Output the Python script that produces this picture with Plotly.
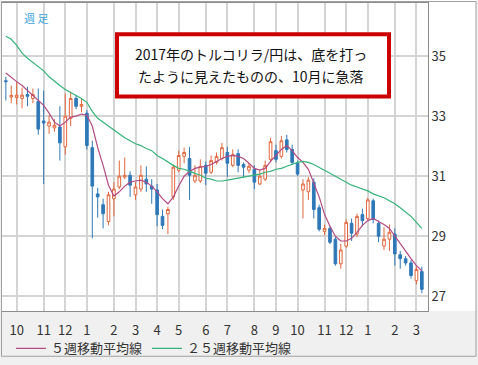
import pandas as pd
import plotly.graph_objects as go

# Weekly TRY/JPY candles (week starting Monday)
weeks = pd.date_range(start="2016-09-19", periods=78, freq="W-MON")

open_ = [34.18, 33.64, 33.62, 33.59, 33.72, 33.59, 33.49, 32.84, 32.67, 32.61,
         32.64, 31.98, 32.93, 33.59, 33.33, 33.10, 31.95, 30.41, 30.05, 29.49,
         30.25, 30.64, 30.97, 31.03, 30.38, 30.57, 30.90, 30.67, 30.54, 29.66,
         29.75, 30.31, 31.20, 31.66, 31.59, 30.84, 30.84, 31.36, 31.13, 31.46,
         31.59, 31.79, 31.36, 31.75, 31.39, 31.20, 31.23, 30.74, 30.90, 31.56,
         31.85, 31.66, 32.21, 31.89, 31.43, 30.54, 30.48, 30.80, 29.95, 29.16,
         29.26, 28.90, 28.08, 28.67, 29.43, 29.07, 29.72, 29.59, 30.18, 29.43,
         28.67, 28.90, 29.07, 28.38, 28.25, 28.11, 27.52, 27.82]
high = [34.31, 34.02, 34.15, 33.95, 33.98, 33.92, 33.92, 33.85, 33.03, 32.90,
        33.33, 33.75, 33.82, 33.69, 33.59, 33.20, 32.18, 30.61, 30.25, 30.48,
        30.80, 31.52, 31.62, 31.16, 30.80, 31.36, 31.33, 30.90, 30.74, 29.89,
        29.98, 31.39, 31.85, 31.95, 31.98, 31.36, 31.56, 31.49, 31.69, 31.79,
        32.11, 31.98, 31.89, 31.89, 31.46, 31.43, 31.36, 31.20, 31.52, 32.28,
        32.05, 32.34, 32.38, 32.05, 31.52, 30.90, 30.97, 30.93, 30.05, 29.39,
        29.33, 28.97, 28.74, 29.56, 29.59, 29.75, 29.92, 30.28, 30.25, 29.52,
        29.30, 29.39, 29.26, 28.51, 28.34, 28.21, 27.98, 27.98]
low = [33.52, 33.43, 33.39, 33.26, 33.33, 33.43, 32.38, 30.74, 32.41, 32.48,
       31.52, 31.72, 32.67, 33.23, 33.13, 31.89, 28.93, 29.62, 29.26, 29.36,
       29.66, 30.57, 30.90, 30.31, 30.21, 30.48, 30.48, 30.08, 29.33, 29.23,
       29.07, 30.21, 31.13, 31.43, 30.21, 30.77, 30.77, 30.70, 31.07, 31.39,
       31.52, 30.97, 31.30, 31.13, 30.97, 31.10, 30.57, 30.70, 30.84, 31.49,
       31.46, 31.59, 31.79, 31.39, 31.00, 29.59, 30.21, 29.59, 29.16, 29.03,
       28.74, 28.02, 27.92, 28.61, 28.84, 28.97, 29.33, 29.52, 29.43, 28.80,
       28.54, 28.51, 28.02, 27.92, 28.02, 27.59, 27.39, 27.10]
close = [34.15, 33.69, 33.70, 33.70, 33.66, 33.72, 32.57, 32.77, 32.80, 32.70,
         32.11, 33.00, 33.59, 33.33, 33.39, 32.02, 30.67, 30.31, 29.75, 30.38,
         30.57, 31.00, 31.03, 30.70, 30.64, 31.03, 30.74, 30.57, 29.72, 29.36,
         29.89, 31.30, 31.69, 31.79, 31.03, 31.03, 31.33, 31.10, 31.52, 31.66,
         31.95, 31.43, 31.72, 31.36, 31.30, 31.33, 30.80, 31.00, 31.36, 32.15,
         31.56, 32.18, 31.89, 31.46, 31.07, 30.74, 30.87, 29.89, 29.23, 29.26,
         28.80, 28.08, 28.54, 29.46, 29.10, 29.66, 29.52, 30.21, 29.56, 29.00,
         28.90, 29.13, 28.41, 28.25, 28.11, 27.69, 27.89, 27.23]

ma5 = [34.44, 34.28, 34.15, 34.02, 33.85, 33.69, 33.52, 33.36, 33.10, 32.80,
       32.67, 32.80, 32.97, 33.00, 33.07, 33.03, 32.67, 31.95, 31.36, 30.70,
       30.34, 30.48, 30.67, 30.80, 30.84, 30.87, 30.80, 30.67, 30.48, 30.25,
       30.08, 30.31, 30.67, 31.00, 31.16, 31.26, 31.30, 31.33, 31.39, 31.49,
       31.59, 31.66, 31.69, 31.66, 31.59, 31.43, 31.26, 31.20, 31.26, 31.49,
       31.69, 31.89, 32.02, 31.85, 31.62, 31.46, 31.23, 30.80, 30.31, 29.72,
       29.33, 29.00, 28.84, 28.84, 28.93, 29.13, 29.36, 29.52, 29.59, 29.49,
       29.39, 29.26, 29.00, 28.74, 28.48, 28.25, 28.02, 27.85]
ma25 = [35.66, 35.56, 35.36, 35.10, 34.93, 34.80, 34.64, 34.51, 34.31, 34.15,
        34.02, 33.89, 33.79, 33.69, 33.59, 33.46, 33.16, 32.93, 32.80, 32.64,
        32.54, 32.38, 32.28, 32.18, 32.08, 32.02, 31.92, 31.85, 31.69, 31.59,
        31.46, 31.36, 31.26, 31.23, 31.16, 31.10, 31.03, 30.93, 30.90, 30.84,
        30.84, 30.87, 30.90, 30.93, 30.97, 31.00, 31.03, 31.07, 31.13, 31.16,
        31.23, 31.26, 31.33, 31.39, 31.46, 31.49, 31.46, 31.39, 31.30, 31.20,
        31.10, 31.00, 30.90, 30.80, 30.70, 30.64, 30.57, 30.51, 30.41, 30.34,
        30.28, 30.18, 30.08, 29.95, 29.82, 29.66, 29.46, 29.26]

tick_dates = ["2016-10-03", "2016-11-07", "2016-12-05", "2017-01-02", "2017-02-06",
              "2017-03-06", "2017-04-03", "2017-05-01", "2017-06-05", "2017-07-03",
              "2017-08-07", "2017-09-04", "2017-10-02", "2017-11-06", "2017-12-04",
              "2018-01-01", "2018-02-05", "2018-03-05"]
tick_labels = ["10", "11", "12", "1", "2", "3", "4", "5", "6", "7", "8", "9",
               "10", "11", "12", "1", "2", "3"]
y_ticks = [27, 29, 31, 33, 35]

FONT = "Noto Sans CJK JP"
UP = "#e2673d"
DOWN = "#2f78b8"

fig = go.Figure()
fig.add_trace(go.Candlestick(
    x=weeks, open=open_, high=high, low=low, close=close,
    increasing=dict(line=dict(color=UP, width=1), fillcolor="white"),
    decreasing=dict(line=dict(color=DOWN, width=1), fillcolor=DOWN),
    whiskerwidth=0, showlegend=False, name="週足"))
fig.add_trace(go.Scatter(x=weeks, y=ma5, mode="lines", name="５週移動平均線",
                         line=dict(color="#b24a82", width=1.2)))
fig.add_trace(go.Scatter(x=weeks, y=ma25, mode="lines", name="２５週移動平均線",
                         line=dict(color="#35b37a", width=1.2)))

W, H = 478, 365
L, R, T, B = 2, 50, 3, 49
pw, ph = W - L - R, H - T - B


def px(x):
    return (x - L) / pw


def py(y):
    return (H - B - y) / ph


shapes = [
    dict(type="rect", xref="paper", yref="paper", x0=0, x1=px(476), y0=0, y1=py(0),
         fillcolor="white", line=dict(width=0), layer="below"),
    dict(type="rect", xref="paper", yref="paper", x0=px(117), x1=px(389),
         y0=py(98), y1=py(34.7), fillcolor="white",
         line=dict(color="#cc0000", width=4), layer="above"),
    dict(type="rect", xref="paper", yref="paper", x0=px(1.5), x1=px(476),
         y0=py(362), y1=py(1.5), line=dict(color="#a0a0a0", width=1),
         fillcolor="rgba(0,0,0,0)", layer="above"),
]

annotations = [
    dict(xref="paper", yref="paper", x=px(251.5), y=py(55), showarrow=False,
         xanchor="center", yanchor="middle",
         text="2017年のトルコリラ/円は、底を打っ", font=dict(family=FONT, size=14, color="#111")),
    dict(xref="paper", yref="paper", x=px(251), y=py(77), showarrow=False,
         xanchor="center", yanchor="middle",
         text="たように見えたものの、10月に急落", font=dict(family=FONT, size=14, color="#111")),
    dict(xref="paper", yref="paper", x=px(35.5), y=py(18), showarrow=False,
         xanchor="center", yanchor="middle",
         text="週 足", font=dict(family=FONT, size=11, color="#3aa3e3")),
]

fig.update_layout(
    width=W, height=H,
    margin=dict(l=L, r=R, t=T, b=B),
    paper_bgcolor="#f0f0f0", plot_bgcolor="white",
    font=dict(family=FONT, size=13, color="#333"),
    shapes=shapes, annotations=annotations,
    boxgap=0.3,
    legend=dict(orientation="h", x=px(11), y=py(354), xanchor="left", yanchor="middle",
                bgcolor="rgba(0,0,0,0)", font=dict(size=13, color="#333"),
                itemwidth=30),
    xaxis=dict(type="date", range=["2016-09-14", "2018-03-20"],
               tickvals=tick_dates, ticktext=tick_labels, tickangle=0,
               showgrid=True, gridcolor="#d4d4d4", gridwidth=1.5,
               showline=True, linecolor="#8c8c8c", linewidth=1, mirror=True,
               ticks="", rangeslider=dict(visible=False), fixedrange=True,
               ticklabelstandoff=7, tickfont=dict(size=13, color="#333")),
    yaxis=dict(side="right", range=[26.508, 36.77], tickvals=y_ticks,
               showgrid=True, gridcolor="#d4d4d4", gridwidth=1.5,
               showline=True, linecolor="#8c8c8c", linewidth=1, mirror=True,
               ticks="", zeroline=False, fixedrange=True,
               tickfont=dict(size=13, color="#333")),
)

fig.write_html("out.html", config={"displayModeBar": False},
               post_script="document.body.style.margin='0';")
